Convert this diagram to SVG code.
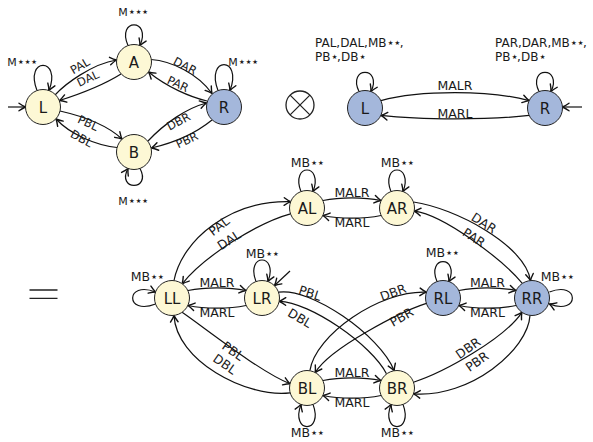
<svg xmlns="http://www.w3.org/2000/svg" width="593" height="442" viewBox="0 0 593 442">
<defs>
<marker id="ah" markerUnits="userSpaceOnUse" orient="auto" overflow="visible" markerWidth="10" markerHeight="10" refX="0" refY="0">
<path d="M-6.5,-3.8 Q-2.5,-1 0,0 Q-2.5,1 -6.5,3.8" fill="none" stroke="#111" stroke-width="1.4" stroke-linecap="round" stroke-linejoin="round"/>
</marker>
<style>
text{font-family:"DejaVu Sans",sans-serif;fill:#1a1a1a}
.nd{stroke:#222;stroke-width:1}
.y{fill:#fdf8d5}
.b{fill:#a4b7db}
.nl{font-size:15px;text-anchor:middle}
.el{font-size:12.5px;text-anchor:middle}
.tl{font-size:11.5px;text-anchor:middle}
.ml{font-size:11px;text-anchor:middle}
.ll{font-size:12px}
.st{font-size:13px;letter-spacing:-1.5px}
.e path{fill:none;stroke:#111;stroke-width:1.2;marker-end:url(#ah)}
.sym{fill:none;stroke:#222;stroke-width:1.3}
</style>
</defs>
<rect width="593" height="442" fill="#fff"/>

<!-- connectors -->
<g id="connectors" class="e">
<!-- top-left automaton -->
<path d="M8,107 L25.5,107"/>
<path d="M55,95 C65,84 92,64 116.5,60"/>
<path d="M121,74 C105,84 80,94 59.5,100.5"/>
<path d="M151,59.5 C172,61 198,74 212,93.5"/>
<path d="M207,101 C190,97 167,87 148.5,72"/>
<path d="M60,111 C82,116 106,124 122,139"/>
<path d="M117,147.5 C95,145 70,134 56,119"/>
<path d="M148,141 C165,123 187,108 206.5,103"/>
<path d="M212,120 C196,133 173,143 151.5,148"/>
<path d="M128,45.5 C116,18 152,18 140,45.5"/>
<path d="M37,90.5 C24,57 62,57 49,90.5"/>
<path d="M218,90.5 C205,56 243,56 230,90.5"/>
<path d="M140,168.5 C152,191 116,191 128,168.5"/>
<!-- top-right automaton -->
<path d="M582,107 L562.5,107"/>
<path d="M380.9,100.6 C420,90 490,90 529.1,100.6"/>
<path d="M529.1,115.4 C490,120 420,120 380.9,115.4"/>
<path d="M359,91.5 C347,66 383,66 371,91.5"/>
<path d="M539,91.5 C527,66 563,66 551,91.5"/>
<!-- product automaton -->
<path d="M290,271 L274.5,285.5"/>
<path d="M323,200.5 C340,197 364,197 381,200.5"/>
<path d="M381,215.5 C364,219 340,219 323,215.5"/>
<path d="M188,290.5 C205,287 229,287 246,290.5"/>
<path d="M246,305.5 C229,309 205,309 188,305.5"/>
<path d="M459,290.5 C476,287 499,287 516,290.5"/>
<path d="M516,305.5 C499,309 476,309 459,305.5"/>
<path d="M323,380.5 C340,377 364,377 381,380.5"/>
<path d="M381,395.5 C364,399 340,399 323,395.5"/>
<path d="M174,280.5 C182,240 230,200 290.7,201.7"/>
<path d="M290.5,213.8 C260,222 205,255 182.2,283.8"/>
<path d="M413.5,202 C455,208 525,245 530.5,280.5"/>
<path d="M522.3,283.4 C505,262 445,215 414.2,211.2"/>
<path d="M182.1,312.3 C205,328 260,372 290,383.7"/>
<path d="M290.2,392.8 C245,398 176,360 174,315.4"/>
<path d="M278.5,292.2 C310,287 380,335 394.2,370.7"/>
<path d="M386.6,373.9 C372,345 310,302 279.2,301.3"/>
<path d="M309.9,370.7 C315,335 380,290 426.5,292.2"/>
<path d="M426.4,303.4 C400,312 330,348 315.2,372.6"/>
<path d="M413.5,382.2 C445,372 505,338 521.9,312.3"/>
<path d="M530,315.4 C528,350 470,398 413.5,393.9"/>
<path d="M301,191.6 C290,162.8 324,162.8 313,191.6"/>
<path d="M391,191.6 C380,162.8 414,162.8 403,191.6"/>
<path d="M256,281.6 C245,252.8 279,252.8 268,281.6"/>
<path d="M437,281.6 C426,255 460,255 449,281.6"/>
<path d="M155.6,304 C125,316 125,280 155.6,292"/>
<path d="M549.4,292 C580,280 580,316 549.4,304"/>
<path d="M313,404.4 C324,434 290,434 301,404.4"/>
<path d="M403,404.4 C414,434 380,434 391,404.4"/>
</g>

<!-- edge labels -->
<g id="labels-top-left">
<text class="tl" transform="translate(80,66) rotate(-30)" y="4">PAL</text>
<text class="tl" transform="translate(88,78.5) rotate(-25)" y="4">DAL</text>
<text class="tl" transform="translate(185,66) rotate(28)" y="4">DAR</text>
<text class="tl" transform="translate(178,84) rotate(25)" y="4">PAR</text>
<text class="tl" transform="translate(88,123) rotate(25)" y="4">PBL</text>
<text class="tl" transform="translate(81.5,138.5) rotate(28)" y="4">DBL</text>
<text class="tl" transform="translate(178.5,121.5) rotate(-28)" y="4">DBR</text>
<text class="tl" transform="translate(187,140) rotate(-25)" y="4">PBR</text>
<text class="ml" x="133" y="15.5">M<tspan class="st">⋆⋆⋆</tspan></text>
<text class="ml" x="22" y="65.5">M<tspan class="st">⋆⋆⋆</tspan></text>
<text class="ml" x="243" y="65.5">M<tspan class="st">⋆⋆⋆</tspan></text>
<text class="ml" x="133" y="205">M<tspan class="st">⋆⋆⋆</tspan></text>
</g>
<g id="labels-top-right">
<text class="el" x="455" y="90">MALR</text>
<text class="el" x="455" y="117.5">MARL</text>
<text class="ll" x="315" y="47">PAL,DAL,MB<tspan class="st">⋆⋆</tspan>,</text>
<text class="ll" x="315" y="61">PB<tspan class="st">⋆</tspan>,DB<tspan class="st">⋆</tspan></text>
<text class="ll" x="495" y="47">PAR,DAR,MB<tspan class="st">⋆⋆</tspan>,</text>
<text class="ll" x="495" y="61">PB<tspan class="st">⋆</tspan>,DB<tspan class="st">⋆</tspan></text>
</g>
<g id="labels-product">
<text class="el" x="352" y="196.5">MALR</text>
<text class="el" x="352" y="226.5">MARL</text>
<text class="el" x="217" y="286.5">MALR</text>
<text class="el" x="217" y="316.5">MARL</text>
<text class="el" x="487.5" y="286.5">MALR</text>
<text class="el" x="487.5" y="316.5">MARL</text>
<text class="el" x="352" y="376.5">MALR</text>
<text class="el" x="352" y="406.5">MARL</text>
<text class="el" transform="translate(219,226) rotate(-38)" y="4.5">PAL</text>
<text class="el" transform="translate(229,240) rotate(-33)" y="4.5">DAL</text>
<text class="el" transform="translate(484,223) rotate(33)" y="4.5">DAR</text>
<text class="el" transform="translate(474,237.5) rotate(33)" y="4.5">PAR</text>
<text class="el" transform="translate(233,351) rotate(35)" y="4.5">PBL</text>
<text class="el" transform="translate(225,364) rotate(35)" y="4.5">DBL</text>
<text class="el" transform="translate(310,293) rotate(18)" y="4.5">PBL</text>
<text class="el" transform="translate(300,318) rotate(30)" y="4.5">DBL</text>
<text class="el" transform="translate(393,292.5) rotate(-20)" y="4.5">DBR</text>
<text class="el" transform="translate(401.5,317) rotate(-30)" y="4.5">PBR</text>
<text class="el" transform="translate(468,348) rotate(-35)" y="4.5">DBR</text>
<text class="el" transform="translate(477,361.5) rotate(-35)" y="4.5">PBR</text>
<text class="el" x="307" y="167">MB<tspan class="st">⋆⋆</tspan></text>
<text class="el" x="397" y="167">MB<tspan class="st">⋆⋆</tspan></text>
<text class="el" x="262" y="257.5">MB<tspan class="st">⋆⋆</tspan></text>
<text class="el" x="442" y="257">MB<tspan class="st">⋆⋆</tspan></text>
<text class="el" x="147" y="281">MB<tspan class="st">⋆⋆</tspan></text>
<text class="el" x="557" y="281">MB<tspan class="st">⋆⋆</tspan></text>
<text class="el" x="307" y="437">MB<tspan class="st">⋆⋆</tspan></text>
<text class="el" x="397" y="437">MB<tspan class="st">⋆⋆</tspan></text>
</g>

<!-- symbols -->
<g id="otimes">
<circle class="sym" cx="300" cy="105" r="14"/>
<path class="sym" d="M290.1,95.1 L309.9,114.9 M309.9,95.1 L290.1,114.9"/>
</g>
<g id="equals">
<path class="sym" d="M29.5,290 H57.5 M29.5,298.3 H57.5" stroke-width="1.5"/>
</g>

<!-- nodes: top-left -->
<g id="tl-L"><circle class="nd y" cx="43" cy="107" r="17.5"/><text class="nl" x="43" y="112.5">L</text></g>
<g id="tl-A"><circle class="nd y" cx="134" cy="62" r="17.5"/><text class="nl" x="134" y="67.5">A</text></g>
<g id="tl-R"><circle class="nd b" cx="224" cy="107" r="17.5"/><text class="nl" x="224" y="112.5">R</text></g>
<g id="tl-B"><circle class="nd y" cx="134" cy="152" r="17.5"/><text class="nl" x="134" y="157.5">B</text></g>
<!-- nodes: top-right -->
<g id="tr-L"><circle class="nd b" cx="365" cy="108" r="17.5"/><text class="nl" x="365" y="113.5">L</text></g>
<g id="tr-R"><circle class="nd b" cx="545" cy="108" r="17.5"/><text class="nl" x="545" y="113.5">R</text></g>
<!-- nodes: product -->
<g id="AL"><circle class="nd y" cx="307" cy="208" r="17.5"/><text class="nl" x="307" y="213.5">AL</text></g>
<g id="AR"><circle class="nd y" cx="397" cy="208" r="17.5"/><text class="nl" x="397" y="213.5">AR</text></g>
<g id="LL"><circle class="nd y" cx="172" cy="298" r="17.5"/><text class="nl" x="172" y="303.5">LL</text></g>
<g id="LR"><circle class="nd y" cx="262" cy="298" r="17.5"/><text class="nl" x="262" y="303.5">LR</text></g>
<g id="RL"><circle class="nd b" cx="443" cy="298" r="17.5"/><text class="nl" x="443" y="303.5">RL</text></g>
<g id="RR"><circle class="nd b" cx="532" cy="298" r="17.5"/><text class="nl" x="532" y="303.5">RR</text></g>
<g id="BL"><circle class="nd y" cx="307" cy="388" r="17.5"/><text class="nl" x="307" y="393.5">BL</text></g>
<g id="BR"><circle class="nd y" cx="397" cy="388" r="17.5"/><text class="nl" x="397" y="393.5">BR</text></g>
</svg>
